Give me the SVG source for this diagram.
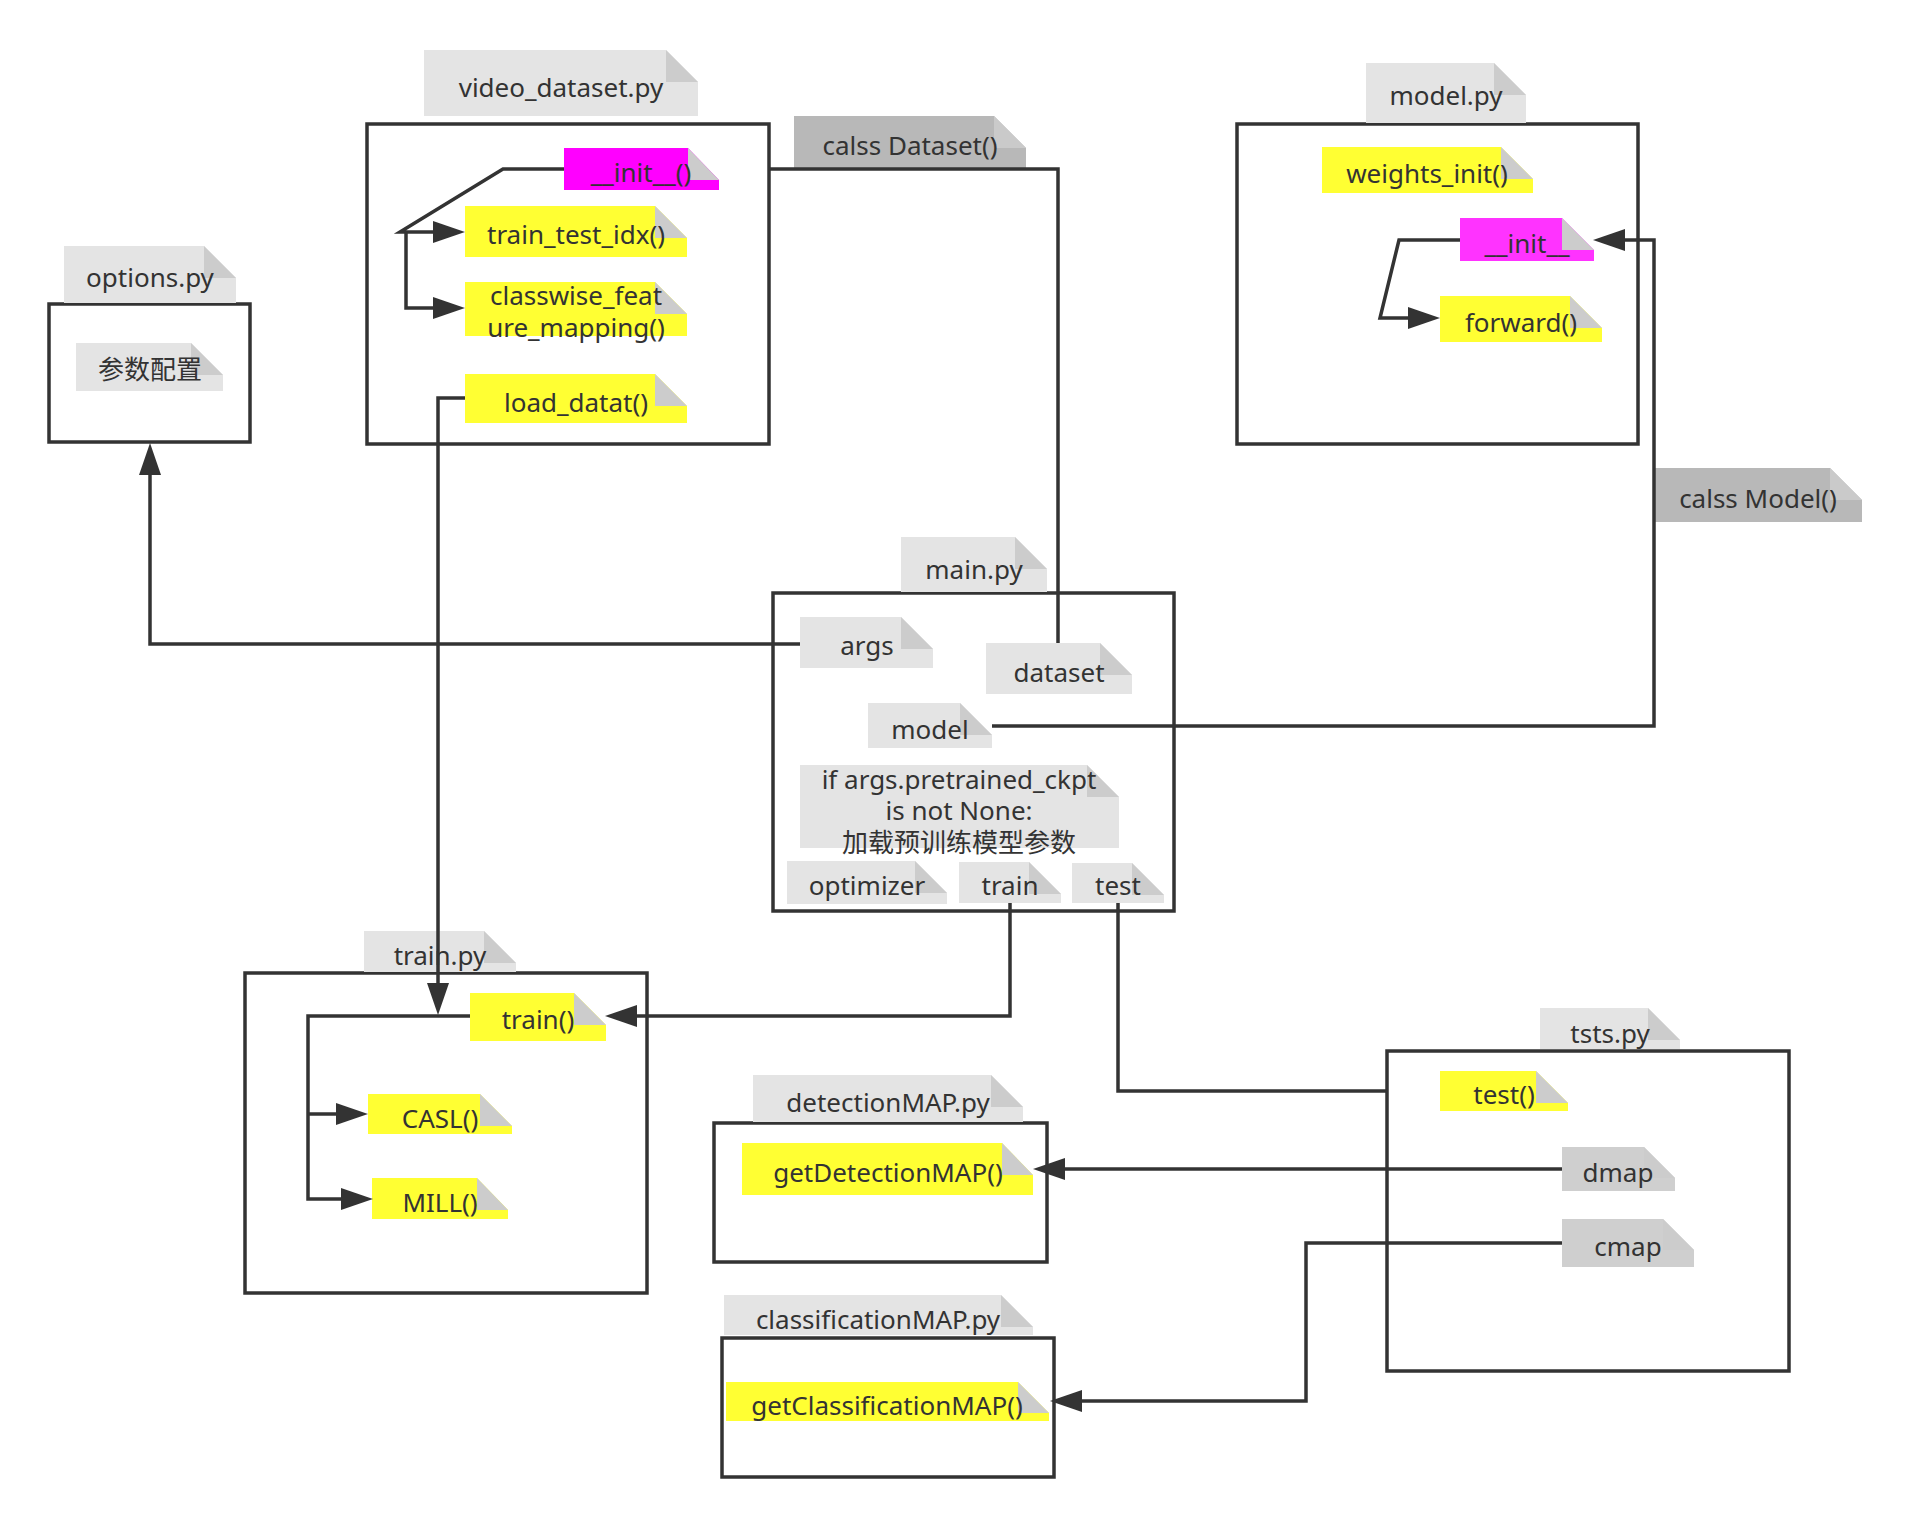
<svg xmlns="http://www.w3.org/2000/svg" width="1912" height="1527" viewBox="0 0 1912 1527">
<style>
.box{fill:#fff;stroke:#333;stroke-width:3.5}
.t{font-family:"Noto Sans","Noto Sans CJK SC",sans-serif;font-size:26px;fill:#333;text-anchor:middle}
.lg{fill:#e4e4e4}
.dk{fill:#b8b8b8}
.md{fill:#cfcfcf}
.ye{fill:#ffff33}
.mg{fill:#ff00ff}
.mg2{fill:#ff33ff}
.fold{fill:#cccccc}
.fold2{fill:#cacaca}
.c{fill:none;stroke:#333;stroke-width:3.5}
.a{marker-end:url(#arr)}
</style>
<defs>
<marker id="arr" viewBox="0 0 32 22" refX="22" refY="11" markerWidth="32" markerHeight="22" markerUnits="userSpaceOnUse" orient="auto">
<path d="M0,0 L32,11 L0,22 z" fill="#333"/>
</marker>
</defs>
<rect width="1912" height="1527" fill="#fff"/>

<!-- file boxes -->
<g id="video_dataset">
<rect class="box" x="367" y="124" width="402" height="320"/>
<polygon class="lg" points="424,50 666,50 698,82 698,116 424,116"/><polygon class="fold" points="666,50 698,82 666,82"/>
<text class="t" x="561" y="97">video_dataset.py</text>
</g>
<g id="options">
<rect class="box" x="49" y="304" width="201" height="138"/>
<polygon class="lg" points="64,246 204,246 236,278 236,303 64,303"/><polygon class="fold" points="204,246 236,278 204,278"/>
<text class="t" x="150" y="287">options.py</text>
</g>
<g id="model_py">
<rect class="box" x="1237" y="124" width="401" height="320"/>
<polygon class="lg" points="1366,63 1494,63 1526,95 1526,123 1366,123"/><polygon class="fold" points="1494,63 1526,95 1494,95"/>
<text class="t" x="1446" y="105">model.py</text>
</g>
<g id="main_py">
<rect class="box" x="773" y="593" width="401" height="318"/>
<polygon class="lg" points="901,537 1015,537 1047,569 1047,592 901,592"/><polygon class="fold" points="1015,537 1047,569 1015,569"/>
<text class="t" x="974" y="579">main.py</text>
</g>
<g id="train_py">
<rect class="box" x="245" y="973" width="402" height="320"/>
<polygon class="lg" points="364,931 484,931 516,963 516,972 364,972"/><polygon class="fold" points="484,931 516,963 484,963"/>
<text class="t" x="440" y="965">train.py</text>
</g>
<g id="tsts_py">
<rect class="box" x="1387" y="1051" width="402" height="320"/>
<polygon class="lg" points="1540,1008 1648,1008 1680,1040 1680,1049 1540,1049"/><polygon class="fold" points="1648,1008 1680,1040 1648,1040"/>
<text class="t" x="1610" y="1043">tsts.py</text>
</g>
<g id="detectionMAP_py">
<rect class="box" x="714" y="1123" width="333" height="139"/>
<polygon class="lg" points="753,1075 991,1075 1023,1107 1023,1122 753,1122"/><polygon class="fold" points="991,1075 1023,1107 991,1107"/>
<text class="t" x="888" y="1112">detectionMAP.py</text>
</g>
<g id="classificationMAP_py">
<rect class="box" x="722" y="1338" width="332" height="139"/>
<polygon class="lg" points="724,1295 1001,1295 1033,1327 1033,1335 724,1335"/><polygon class="fold" points="1001,1295 1033,1327 1001,1327"/>
<text class="t" x="878" y="1329">classificationMAP.py</text>
</g>

<!-- labels -->
<g id="calss_dataset">
<polygon class="dk" points="794,116 994,116 1026,148 1026,168 794,168"/><polygon class="fold2" points="994,116 1026,148 994,148"/>
<text class="t" x="910" y="155">calss Dataset()</text>
</g>
<g id="calss_model">
<polygon class="dk" points="1654,468 1830,468 1862,500 1862,522 1654,522"/><polygon class="fold2" points="1830,468 1862,500 1830,500"/>
<text class="t" x="1758" y="508">calss Model()</text>
</g>

<!-- inner notes -->
<g id="init_video">
<polygon class="mg" points="564,148 688,148 719,180 719,190 564,190"/><polygon class="fold" points="688,148 719,180 688,180"/>
<text class="t" x="641" y="182">__init__()</text>
</g>
<g id="train_test_idx">
<polygon class="ye" points="465,206 655,206 687,238 687,257 465,257"/><polygon class="fold" points="655,206 687,238 655,238"/>
<text class="t" x="576" y="244">train_test_idx()</text>
</g>
<g id="classwise">
<polygon class="ye" points="465,282 655,282 687,314 687,336 465,336"/><polygon class="fold" points="655,282 687,314 655,314"/>
<text class="t" x="576" y="305">classwise_feat</text>
<text class="t" x="576" y="337">ure_mapping()</text>
</g>
<g id="load_datat">
<polygon class="ye" points="465,374 655,374 687,406 687,423 465,423"/><polygon class="fold" points="655,374 687,406 655,406"/>
<text class="t" x="576" y="412">load_datat()</text>
</g>
<g id="params">
<polygon class="lg" points="76,343 191,343 223,375 223,391 76,391"/><polygon class="fold" points="191,343 223,375 191,375"/>
<text class="t" x="150" y="379">参数配置</text>
</g>
<g id="weights_init">
<polygon class="ye" points="1322,147 1501,147 1533,179 1533,193 1322,193"/><polygon class="fold" points="1501,147 1533,179 1501,179"/>
<text class="t" x="1427" y="183">weights_init()</text>
</g>
<g id="init_model">
<polygon class="mg2" points="1460,218 1562,218 1594,250 1594,261 1460,261"/><polygon class="fold" points="1562,218 1594,250 1562,250"/>
<text class="t" x="1527" y="253">__init__</text>
</g>
<g id="forward">
<polygon class="ye" points="1440,296 1570,296 1602,328 1602,342 1440,342"/><polygon class="fold" points="1570,296 1602,328 1570,328"/>
<text class="t" x="1521" y="332">forward()</text>
</g>
<g id="args">
<polygon class="lg" points="800,617 901,617 933,649 933,668 800,668"/><polygon class="fold" points="901,617 933,649 901,649"/>
<text class="t" x="867" y="655">args</text>
</g>
<g id="dataset">
<polygon class="lg" points="986,643 1100,643 1132,675 1132,694 986,694"/><polygon class="fold" points="1100,643 1132,675 1100,675"/>
<text class="t" x="1059" y="682">dataset</text>
</g>
<g id="model">
<polygon class="lg" points="868,703 960,703 992,735 992,748 868,748"/><polygon class="fold" points="960,703 992,735 960,735"/>
<text class="t" x="930" y="739">model</text>
</g>
<g id="pretrained">
<polygon class="lg" points="800,765 1087,765 1119,797 1119,848 800,848"/><polygon class="fold" points="1087,765 1119,797 1087,797"/>
<text class="t" x="959" y="789">if args.pretrained_ckpt</text>
<text class="t" x="959" y="820">is not None:</text>
<text class="t" x="959" y="852">加载预训练模型参数</text>
</g>
<g id="optimizer">
<polygon class="lg" points="787,861 915,861 947,893 947,904 787,904"/><polygon class="fold" points="915,861 947,893 915,893"/>
<text class="t" x="867" y="895">optimizer</text>
</g>
<g id="train_main">
<polygon class="lg" points="959,862 1029,862 1061,894 1061,903 959,903"/><polygon class="fold" points="1029,862 1061,894 1029,894"/>
<text class="t" x="1010" y="895">train</text>
</g>
<g id="test_main">
<polygon class="lg" points="1072,863 1132,863 1164,895 1164,903 1072,903"/><polygon class="fold" points="1132,863 1164,895 1132,895"/>
<text class="t" x="1118" y="895">test</text>
</g>
<g id="train_fn">
<polygon class="ye" points="470,993 574,993 606,1025 606,1041 470,1041"/><polygon class="fold" points="574,993 606,1025 574,1025"/>
<text class="t" x="538" y="1029">train()</text>
</g>
<g id="casl">
<polygon class="ye" points="368,1094 480,1094 512,1126 512,1134 368,1134"/><polygon class="fold" points="480,1094 512,1126 480,1126"/>
<text class="t" x="440" y="1128">CASL()</text>
</g>
<g id="mill">
<polygon class="ye" points="372,1178 477,1178 508,1210 508,1219 372,1219"/><polygon class="fold" points="477,1178 508,1210 477,1210"/>
<text class="t" x="440" y="1212">MILL()</text>
</g>
<g id="test_fn">
<polygon class="ye" points="1440,1071 1536,1071 1568,1103 1568,1111 1440,1111"/><polygon class="fold" points="1536,1071 1568,1103 1536,1103"/>
<text class="t" x="1504" y="1104">test()</text>
</g>
<g id="dmap">
<polygon class="md" points="1562,1147 1644,1147 1675,1178 1675,1191 1562,1191"/><polygon class="fold" points="1644,1147 1675,1178 1644,1178"/>
<text class="t" x="1618" y="1182">dmap</text>
</g>
<g id="cmap">
<polygon class="md" points="1562,1219 1663,1219 1694,1250 1694,1267 1562,1267"/><polygon class="fold" points="1663,1219 1694,1250 1663,1250"/>
<text class="t" x="1628" y="1256">cmap</text>
</g>
<g id="getDetectionMAP">
<polygon class="ye" points="742,1143 1002,1143 1033,1175 1033,1195 742,1195"/><polygon class="fold" points="1002,1143 1033,1175 1002,1175"/>
<text class="t" x="888" y="1182">getDetectionMAP()</text>
</g>
<g id="getClassificationMAP">
<polygon class="ye" points="726,1382 1018,1382 1049,1413 1049,1421 726,1421"/><polygon class="fold" points="1018,1382 1049,1413 1018,1413"/>
<text class="t" x="887" y="1415">getClassificationMAP()</text>
</g>

<g id="connectors">
<path class="c a" d="M564,169 H503 L400,232 H455"/>
<path class="c a" d="M406,232 V308 H455"/>
<path class="c a" d="M465,398 H438 V1005"/>
<path class="c" d="M769,169 H1058 V643"/>
<path class="c a" d="M800,644 H150 V453"/>
<path class="c a" d="M992,726 H1654 V240 H1603"/>
<path class="c a" d="M1460,240 H1399 L1380,318 H1430"/>
<path class="c a" d="M1010,903 V1016 H615"/>
<path class="c a" d="M470,1016 H308 V1199 H363"/>
<path class="c a" d="M308,1114 H358"/>
<path class="c" d="M1118,903 V1091 H1387"/>
<path class="c a" d="M1562,1169 H1043"/>
<path class="c a" d="M1562,1243 H1306 V1401 H1060"/>
</g>
</svg>
